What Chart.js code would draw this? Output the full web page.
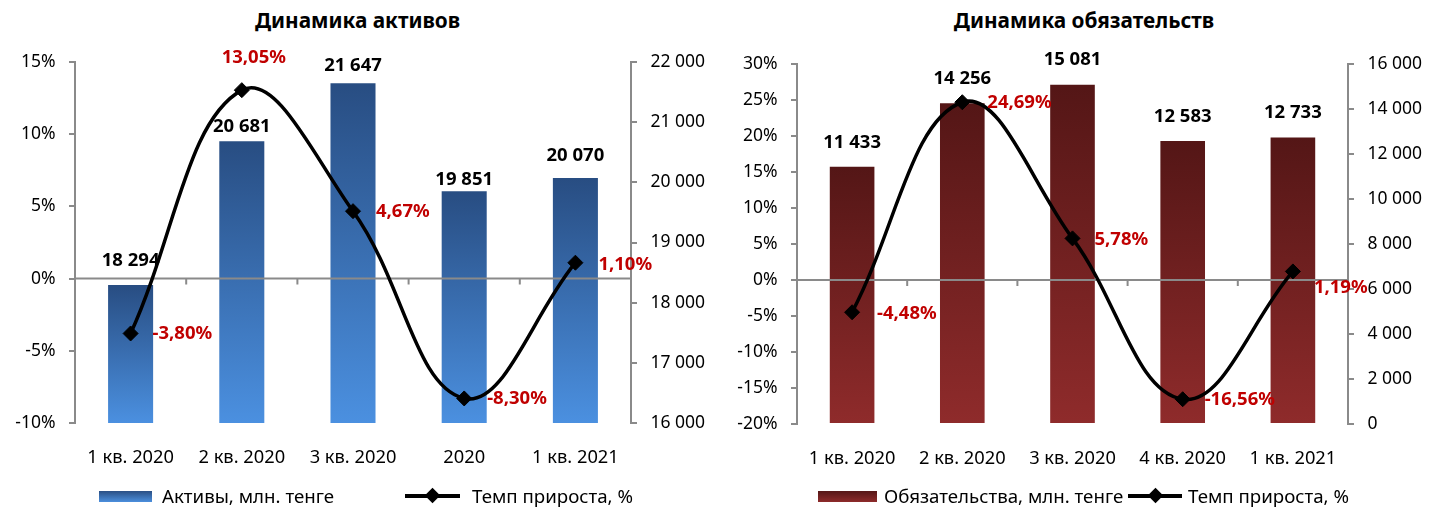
<!DOCTYPE html>
<html>
<head>
<meta charset="utf-8">
<script src="https://cdn.jsdelivr.net/npm/chart.js@4.4.0/dist/chart.umd.min.js"></script>
<style>
  body { margin: 0; background: #fff; width: 1429px; height: 509px; overflow: hidden; position: relative; font-family: 'Noto Sans', sans-serif; color: #000; }
  .panel { position: absolute; top: 0; height: 509px; }
  .title { position: absolute; top: 8px; font-size: 20.8px; line-height: 24px; font-weight: bold; text-align: center; }
  .leg { position: absolute; top: 486px; display: flex; align-items: center; font-size: 18.7px; line-height: 20px; white-space: nowrap; }
  .leg .box { width: 53px; height: 11px; margin-right: 10px; }
  .leg .ln { position: relative; width: 55px; height: 3.5px; background: #000; margin-right: 12px; }
  .leg .ln::after { content: ''; position: absolute; left: 22px; top: -4px; width: 11px; height: 11px; background: #000; transform: rotate(45deg); }
</style>
</head>
<body>

<div class="title" style="left:0; width:715px">Динамика активов</div>
<div class="title" style="left:784px; width:600px">Динамика обязательств</div>

<div class="panel" style="left:0; width:714px"><canvas id="assetsChart" width="714" height="509"></canvas></div>
<div class="panel" style="left:714px; width:715px"><canvas id="liabChart" width="715" height="509"></canvas></div>

<div class="leg" style="left:99px"><div class="box" style="background:linear-gradient(#2a4f84,#4b8fdd)"></div>Активы, млн. тенге</div>
<div class="leg" style="left:405px"><div class="ln"></div>Темп прироста, %</div>
<div class="leg" style="left:818px"><div class="box" style="width:59px;margin-right:7px;background:linear-gradient(#551717,#8e2b2b)"></div>Обязательства, млн. тенге</div>
<div class="leg" style="left:1128px"><div class="ln" style="width:54px;margin-right:6px"></div>Темп прироста, %</div>

<script>
// данные
const assetCats = ['1 кв. 2020', '2 кв. 2020', '3 кв. 2020', '2020', '1 кв. 2021']
const assetValues = [18294, 20681, 21647, 19851, 20070]
const assetGrowth = [-3.80, 13.05, 4.67, -8.30, 1.10]

const liabCats = ['1 кв. 2020', '2 кв. 2020', '3 кв. 2020', '4 кв. 2020', '1 кв. 2021']
const liabValues = [11433, 14256, 15081, 12583, 12733]
const liabGrowth = [-4.48, 24.69, 5.78, -16.56, 1.19]

// шкалы
const assetPctTicks = { min: -10, max: 15, step: 5 }
const assetValTicks = { min: 16000, max: 22000, step: 1000 }
const liabPctTicks = { min: -20, max: 30, step: 5 }
const liabValTicks = { min: 0, max: 16000, step: 2000 }

const axisGray = '#8a8a8a'
const red = '#c00000'
const FONT = "'Noto Sans', sans-serif"

Chart.defaults.font.family = FONT
Chart.defaults.color = '#000'

const fmtNum = v => String(v).replace(/\B(?=(\d{3})+(?!\d))/g, ' ')
const fmtPct = v => v.toFixed(2).replace('.', ',') + '%'

// линия 0% поверх столбцов, под кривой
const zeroLine = {
  id: 'zeroLine',
  afterDatasetDraw(chart, args) {
    if (chart.data.datasets[args.index].type !== 'bar') return
    const { ctx, chartArea, scales } = chart
    const y0 = scales.y.getPixelForValue(0)
    ctx.save()
    ctx.strokeStyle = axisGray
    ctx.lineWidth = 2
    ctx.beginPath()
    ctx.moveTo(chartArea.left, y0)
    ctx.lineTo(chartArea.right, y0)
    for (let i = 1; i < chart.data.labels.length; i++) {
      const x = scales.x.getPixelForValue(i - 0.5)
      ctx.moveTo(x, y0)
      ctx.lineTo(x, y0 + 6)
    }
    ctx.stroke()
    ctx.restore()
  }
}

// подписи значений
const valueLabels = {
  id: 'valueLabels',
  afterDatasetsDraw(chart, args, opts) {
    const { ctx } = chart
    ctx.save()
    ctx.textBaseline = 'middle'
    chart.data.datasets.forEach((ds, di) => {
      const meta = chart.getDatasetMeta(di)
      meta.data.forEach((el, i) => {
        if (ds.type === 'bar') {
          ctx.font = "bold 18.5px " + FONT
          ctx.fillStyle = '#000'
          ctx.textAlign = 'center'
          ctx.fillText(fmtNum(ds.data[i]), el.x, el.y - opts.barLift[i])
        } else {
          const o = opts.rate[i]
          ctx.font = "bold 18.5px " + FONT
          ctx.fillStyle = red
          ctx.textAlign = o.align || 'left'
          ctx.fillText(fmtPct(ds.data[i]), el.x + o.dx, el.y + o.dy)
        }
      })
    })
    ctx.restore()
  }
}

const barGradient = (top, bottom) => (c) => {
  const chart = c.chart
  if (!chart.chartArea || c.raw === undefined) return top
  const s = chart.scales.y1
  const y1 = s.getPixelForValue(c.raw)
  const y2 = s.getPixelForValue(s.min)
  const g = chart.ctx.createLinearGradient(0, y1, 0, y2)
  g.addColorStop(0, top)
  g.addColorStop(1, bottom)
  return g
}

const makeChart = (id, cats, values, growth, pct, val, colors, lay) => {
  new Chart(document.getElementById(id), {
    type: 'bar',
    data: {
      labels: cats,
      datasets: [
        {
          type: 'line',
          label: 'Темп прироста, %',
          data: growth,
          yAxisID: 'y',
          order: 0,
          borderColor: '#000',
          borderWidth: 3.5,
          tension: 0.4,
          pointStyle: 'rectRot',
          pointRadius: 7.5,
          pointBackgroundColor: '#000',
          pointBorderColor: '#000',
          pointBorderWidth: 1
        },
        {
          type: 'bar',
          label: 'values',
          data: values,
          yAxisID: 'y1',
          order: 1,
          backgroundColor: barGradient(colors[0], colors[1]),
          barPercentage: 0.405,
          categoryPercentage: 1
        }
      ]
    },
    options: {
      responsive: false,
      animation: false,
      layout: { padding: { top: lay.top, bottom: lay.bottom, left: 0, right: 0 } },
      plugins: {
        legend: { display: false },
        title: { display: false },
        tooltip: { enabled: false },
        valueLabels: { barLift: lay.barLift, rate: lay.rate }
      },
      scales: {
        x: {
          grid: { display: false },
          border: { display: false },
          ticks: { font: { size: 18.3 }, padding: 16, color: '#000', maxRotation: 0, autoSkip: false },
          afterFit: s => { s.height = 50 }
        },
        y: {
          position: 'left',
          min: pct.min, max: pct.max,
          grid: { drawOnChartArea: false, color: axisGray, lineWidth: 2, tickLength: 6 },
          border: { color: axisGray, width: 2 },
          ticks: { stepSize: pct.step, font: { size: 17.5 }, padding: 13.5, color: '#000', callback: v => v + '%' },
          afterFit: s => { s.width = lay.leftW }
        },
        y1: {
          position: 'right',
          min: val.min, max: val.max,
          grid: { drawOnChartArea: false, color: axisGray, lineWidth: 2, tickLength: 6 },
          border: { color: axisGray, width: 2 },
          ticks: { stepSize: val.step, font: { size: 17.5 }, padding: 13.5, color: '#000', callback: v => fmtNum(v) },
          afterFit: s => { s.width = lay.rightW }
        }
      }
    },
    plugins: [zeroLine, valueLabels]
  })
}

makeChart('assetsChart', assetCats, assetValues, assetGrowth, assetPctTicks, assetValTicks,
  ['#284d82', '#4b90e0'],
  {
    top: 62, bottom: 36, leftW: 75, rightW: 83,
    barLift: [24, 15, 18, 12, 22],
    rate: [{ dx: 22, dy: 0 }, { dx: 12, dy: -32, align: 'center' }, { dx: 23, dy: 1 }, { dx: 23, dy: 0 }, { dx: 23, dy: 2 }]
  })

makeChart('liabChart', liabCats, liabValues, liabGrowth, liabPctTicks, liabValTicks,
  ['#541616', '#8f2b2b'],
  {
    top: 64, bottom: 35, leftW: 83, rightW: 81,
    barLift: [24, 25, 25, 24, 25],
    rate: [{ dx: 25, dy: 1 }, { dx: 25, dy: 1 }, { dx: 22, dy: 1 }, { dx: 22, dy: 1 }, { dx: 21, dy: 16 }]
  })
</script>
</body>
</html>
